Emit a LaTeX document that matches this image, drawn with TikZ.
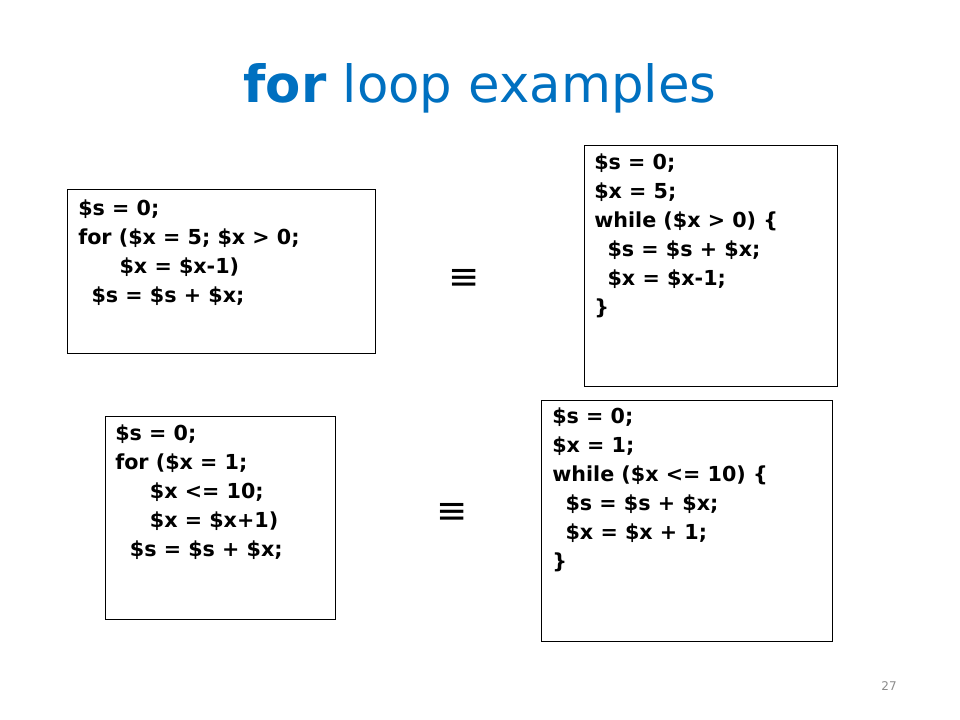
\documentclass[tikz,border=0pt]{standalone}
\usepackage{fontspec}
\setmainfont{DejaVu Sans}
\usepackage{tikz}
\definecolor{TitleBlue}{RGB}{0,112,192}
\definecolor{PageGray}{RGB}{140,140,140}

\tikzset{
  codebox/.style={draw=black,line width=0.8pt,anchor=north west,inner sep=0pt},
  code/.style={anchor=north west,inner sep=0pt,align=left,
    font=\bfseries\fontsize{15.5}{21.75}\selectfont},
  equivsign/.style={font=\fontsize{28}{28}\selectfont}
}

\begin{document}

\begin{tikzpicture}[x=0.75pt,y=-0.75pt]

    \useasboundingbox (0,0) rectangle (960,720);

    \node[text=TitleBlue,font=\fontsize{38.5}{38.5}\selectfont] (title) at (480,88)
    {\textbf{for} loop examples};

    % upper pair
    \node[codebox,minimum width=308*0.75pt,minimum height=164*0.75pt]
    (boxA) at (67,189) {};

    \node[code] (codeA) at (78,200)
    {\$s = 0;\\
      for (\$x = 5; \$x > 0;\\
      \hspace*{31pt}\$x = \$x-1)\\
      \hspace*{10pt}\$s = \$s + \$x;};

    \node[codebox,minimum width=253*0.75pt,minimum height=241*0.75pt]
    (boxB) at (584,145) {};

    \node[code] (codeB) at (594,154)
    {\$s = 0;\\
      \$x = 5;\\
      while (\$x > 0) \{\\
      \hspace*{10pt}\$s = \$s + \$x;\\
      \hspace*{10pt}\$x = \$x-1;\\
      \}};

    \node[equivsign] (eqA) at (464,279) {≡};



    % lower pair
    \node[codebox,minimum width=230*0.75pt,minimum height=203*0.75pt]
    (boxC) at (105,416) {};

    \node[code] (codeC) at (115,425)
    {\$s = 0;\\
      for (\$x = 1;\\
      \hspace*{26pt}\$x <= 10;\\
      \hspace*{26pt}\$x = \$x+1)\\
      \hspace*{11pt}\$s = \$s + \$x;};

    \node[codebox,minimum width=291*0.75pt,minimum height=241*0.75pt]
    (boxD) at (541,400) {};

    \node[code] (codeD) at (552,408)
    {\$s = 0;\\
      \$x = 1;\\
      while (\$x <= 10) \{\\
      \hspace*{10pt}\$s = \$s + \$x;\\
      \hspace*{10pt}\$x = \$x + 1;\\
      \}};

    \node[equivsign] (eqB) at (452,513) {≡};

    \node[text=PageGray,font=\fontsize{9}{9}\selectfont] (pagenum) at (889,686) {27};

  \end{tikzpicture}

\end{document}
